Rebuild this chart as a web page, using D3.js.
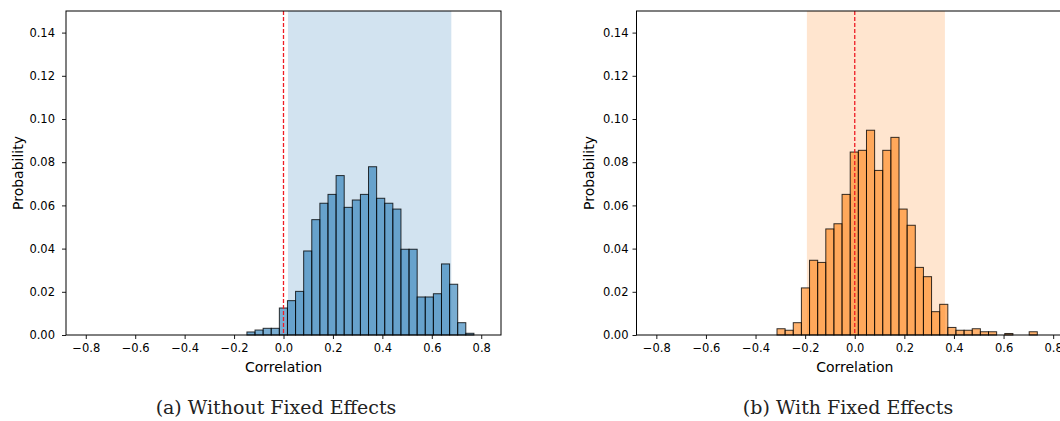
<!DOCTYPE html>
<html>
<head>
<meta charset="utf-8">
<script src="https://cdn.jsdelivr.net/npm/d3@7"></script>
<style>
  body { margin: 0; background: #fff; }
  text { font-family: "DejaVu Sans", sans-serif; fill: #000; }
  .caption { font-family: "DejaVu Serif", serif; }
</style>
</head>
<body>
<script>
// histogram heights (probability per bin)
var leftBinStart = -0.148, leftBinWidth = 0.0328;
var leftProb = [0.0014, 0.0023, 0.0031, 0.0031, 0.0125, 0.0159, 0.0202, 0.0389,
  0.0534, 0.0610, 0.0651, 0.0738, 0.0591, 0.0625, 0.0651, 0.0779, 0.0633, 0.0610,
  0.0583, 0.0397, 0.0397, 0.0176, 0.0176, 0.0191, 0.0329, 0.0235, 0.0057, 0.0008];

var rightBinStart = -0.3135, rightBinWidth = 0.0328;
var rightProb = [0.0029, 0.0022, 0.0057, 0.0218, 0.0346, 0.0336, 0.0491, 0.0515,
  0.0651, 0.0847, 0.0855, 0.0948, 0.0762, 0.0855, 0.0915, 0.0583, 0.0508, 0.0313,
  0.0270, 0.0108, 0.0142, 0.0035, 0.0022, 0.0022, 0.0029, 0.0015, 0.0015, 0,
  0.0007, 0, 0, 0.0015];

var leftSpan = [0.018, 0.679];
var rightSpan = [-0.193, 0.3635];

var xTicks = [-0.8, -0.6, -0.4, -0.2, 0.0, 0.2, 0.4, 0.6, 0.8];
var yTicks = [0, 0.02, 0.04, 0.06, 0.08, 0.10, 0.12, 0.14];
var captions = ["(a) Without Fixed Effects", "(b) With Fixed Effects"];

var W = 1060, H = 421;
var plotTop = 11, plotBottom = 335;

var svg = d3.select("body").append("svg")
    .attr("width", W)
    .attr("height", H);

var panels = [
  {x0: 66, x1: 501, start: leftBinStart, width: leftBinWidth, prob: leftProb,
   span: leftSpan, color: "#1f77b4", shade: "#d2e3f0", pad: 7, caption: captions[0], cx: 276},
  {x0: 636.5, x1: 1073, start: rightBinStart, width: rightBinWidth, prob: rightProb,
   span: rightSpan, color: "#ff7f0e", shade: "#ffe5cf", pad: 4, caption: captions[1], cx: 848}
];

panels.forEach(function(p) {
  var x = d3.scaleLinear().domain([-0.88, 0.88]).range([p.x0, p.x1]);
  var y = d3.scaleLinear().domain([0, 0.15]).range([plotBottom, plotTop]);

  var g = svg.append("g");

  // shaded interval
  g.append("rect")
      .attr("x", x(p.span[0]))
      .attr("y", y(0.15))
      .attr("width", x(p.span[1]) - x(p.span[0]))
      .attr("height", y(0) - y(0.15))
      .attr("fill", p.shade);

  var bins = p.prob.map(function(v, i) {
    return {lo: p.start + i * p.width, hi: p.start + (i + 1) * p.width, v: v};
  }).filter(function(d) { return d.v > 0; });

  g.selectAll(".bar").data(bins).enter().append("rect")
      .attr("class", "bar")
      .attr("x", function(d) { return x(d.lo); })
      .attr("y", function(d) { return y(d.v); })
      .attr("width", function(d) { return x(d.hi) - x(d.lo); })
      .attr("height", function(d) { return y(0) - y(d.v); })
      .attr("fill", p.color)
      .attr("fill-opacity", 0.6)
      .attr("stroke", "#000")
      .attr("stroke-opacity", 0.8)
      .attr("stroke-width", 1);

  // zero line
  g.append("line")
      .attr("x1", x(0)).attr("x2", x(0))
      .attr("y1", y(0.15)).attr("y2", y(0))
      .attr("stroke", "#ee1c24")
      .attr("stroke-width", 1.3)
      .attr("stroke-dasharray", "4,2");

  // axes
  var xAxis = d3.axisBottom(x).tickValues(xTicks).tickSize(4).tickPadding(5)
      .tickFormat(d3.format(".1f"));
  var yAxis = d3.axisLeft(y).tickValues(yTicks).tickSize(4).tickPadding(p.pad)
      .tickFormat(d3.format(".2f"));

  var gx = g.append("g").attr("transform", "translate(0," + plotBottom + ")").call(xAxis);
  var gy = g.append("g").attr("transform", "translate(" + p.x0 + ",0)").call(yAxis);
  [gx, gy].forEach(function(a) {
    a.select(".domain").remove();
    a.selectAll("text").style("font-family", "DejaVu Sans").style("font-size", "11.5px");
    a.selectAll("line").attr("stroke", "#000").attr("stroke-width", 0.9);
  });

  // frame
  g.append("rect")
      .attr("x", p.x0).attr("y", plotTop)
      .attr("width", p.x1 - p.x0).attr("height", plotBottom - plotTop)
      .attr("fill", "none")
      .attr("stroke", "#000")
      .attr("stroke-width", 1);

  g.append("text")
      .attr("x", (p.x0 + p.x1) / 2)
      .attr("y", 372)
      .attr("text-anchor", "middle")
      .style("font-size", "14px")
      .text("Correlation");

  g.append("text")
      .attr("transform", "translate(" + (p.x0 - 43) + "," + ((plotTop + plotBottom) / 2) + ") rotate(-90)")
      .attr("text-anchor", "middle")
      .style("font-size", "14px")
      .text("Probability");

  g.append("text")
      .attr("class", "caption")
      .attr("x", p.cx)
      .attr("y", 414)
      .attr("text-anchor", "middle")
      .style("font-size", "19px")
      .style("fill", "#222")
      .text(p.caption);
});
</script>
</body>
</html>
